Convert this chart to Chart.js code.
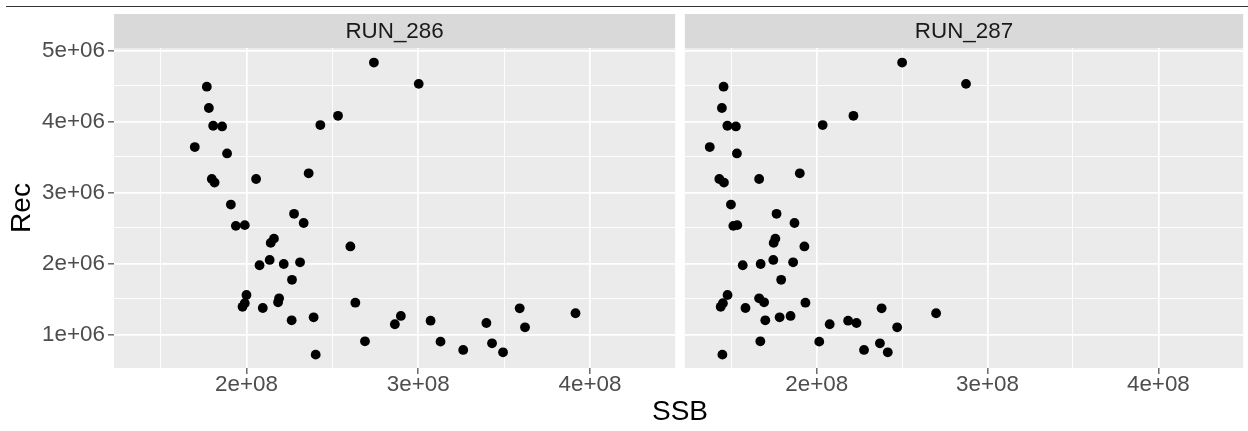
<!DOCTYPE html>
<html>
<head>
<meta charset="utf-8">
<script src="https://cdn.jsdelivr.net/npm/chart.js@4.4.1/dist/chart.umd.min.js"></script>
<style>
  body { margin: 0; background: #fff; width: 1248px; height: 431px; position: relative; overflow: hidden;
         font-family: "Liberation Sans", Arial, sans-serif; }
  #topRule { position: absolute; left: 6px; right: 0; top: 6px; height: 1px; background: #333; }
  canvas { position: absolute; top: 0; }
  #c286 { left: 0; }
  #c287 { left: 680px; }
  #ssbTitle { position: absolute; left: 114px; width: 1132px; top: 395px; text-align: center;
              font-size: 28px; line-height: 32px; color: #000; }
</style>
</head>
<body>
<div id="topRule"></div>
<canvas id="c286" width="680" height="431"></canvas>
<canvas id="c287" width="568" height="431"></canvas>
<div id="ssbTitle">SSB</div>
<script>
// recruitment by year, shared by both runs
const rec = [
  4.83e6, 4.49e6, 4.19e6, 3.94e6, 3.93e6, 3.64e6, 3.55e6, 3.19e6, 3.14e6, 3.19e6,
  3.27e6, 3.95e6, 4.08e6, 2.83e6, 2.70e6, 4.53e6, 2.57e6, 2.53e6, 2.54e6, 2.35e6,
  2.29e6, 2.24e6, 2.05e6, 1.975e6, 1.993e6, 2.017e6, 1.77e6, 1.556e6, 1.44e6, 1.39e6,
  1.51e6, 1.453e6, 1.373e6, 1.448e6, 1.20e6, 1.242e6, 0.716e6, 0.904e6, 1.144e6, 1.261e6,
  1.194e6, 0.899e6, 0.782e6, 1.162e6, 0.876e6, 0.749e6, 1.369e6, 1.101e6, 1.299e6
];

// spawning stock biomass, same years, per run
const ssbRun286 = [
  2.742e8, 1.769e8, 1.781e8, 1.806e8, 1.858e8, 1.699e8, 1.887e8, 1.798e8, 1.814e8, 2.056e8,
  2.362e8, 2.430e8, 2.533e8, 1.909e8, 2.277e8, 3.003e8, 2.333e8, 1.938e8, 1.990e8, 2.160e8,
  2.141e8, 2.605e8, 2.135e8, 2.076e8, 2.217e8, 2.312e8, 2.265e8, 2.000e8, 1.990e8, 1.977e8,
  2.190e8, 2.184e8, 2.095e8, 2.634e8, 2.263e8, 2.391e8, 2.403e8, 2.690e8, 2.864e8, 2.899e8,
  3.072e8, 3.130e8, 3.262e8, 3.397e8, 3.430e8, 3.494e8, 3.591e8, 3.622e8, 3.916e8
];
const ssbRun287 = [
  2.500e8, 1.455e8, 1.445e8, 1.477e8, 1.527e8, 1.374e8, 1.533e8, 1.430e8, 1.457e8, 1.663e8,
  1.901e8, 2.035e8, 2.215e8, 1.498e8, 1.765e8, 2.874e8, 1.870e8, 1.512e8, 1.535e8, 1.758e8,
  1.748e8, 1.928e8, 1.746e8, 1.567e8, 1.672e8, 1.862e8, 1.792e8, 1.478e8, 1.451e8, 1.438e8,
  1.663e8, 1.692e8, 1.583e8, 1.934e8, 1.699e8, 1.783e8, 1.448e8, 1.670e8, 2.076e8, 1.847e8,
  2.184e8, 2.015e8, 2.277e8, 2.233e8, 2.370e8, 2.416e8, 2.380e8, 2.471e8, 2.699e8
];

const runNames = ["RUN_286", "RUN_287"];

// grid breaks: majors get labels, halves are minor lines
const xBreaks = [1.5e8, 2e8, 2.5e8, 3e8, 3.5e8, 4e8];
const yBreaks = [1e6, 1.5e6, 2e6, 2.5e6, 3e6, 3.5e6, 4e6, 4.5e6, 5e6];
const xLimits = [1.2285e8, 4.496e8];
const yLimits = [0.528e6, 5.035e6];

const FONT = '"Liberation Sans", Arial, sans-serif';

function sciLabel(v) {
  const [m, e] = v.toExponential().split('e');
  return m + 'e' + e[0] + e.slice(1).padStart(2, '0');
}
const isMajorX = v => v % 1e8 === 0;
const isMajorY = v => v % 1e6 === 0;

// grey panel background and the facet strip on top
const panelStrip = {
  id: 'panelStrip',
  beforeDraw(chart, args, opts) {
    const { ctx, chartArea: a } = chart;
    ctx.save();
    ctx.fillStyle = '#EBEBEB';
    ctx.fillRect(a.left, a.top, a.right - a.left, a.bottom - a.top);
    ctx.fillStyle = '#D9D9D9';
    ctx.fillRect(a.left, 14, a.right - a.left, a.top - 14);
    ctx.fillStyle = '#1A1A1A';
    ctx.font = '22.4px ' + FONT;
    ctx.textAlign = 'center';
    ctx.textBaseline = 'middle';
    ctx.fillText(opts.label, (a.left + a.right) / 2, 14 + (a.top - 14) / 2 + 1);
    ctx.restore();
  }
};

function makePanel(canvasId, ssb, label, first) {
  return new Chart(document.getElementById(canvasId), {
    type: 'scatter',
    data: {
      datasets: [{
        data: ssb.map((x, i) => ({ x: x, y: rec[i] })),
        pointRadius: 4.9,
        pointHoverRadius: 4.9,
        pointBackgroundColor: '#000',
        pointBorderWidth: 0,
      }],
    },
    plugins: [panelStrip],
    options: {
      responsive: false,
      animation: false,
      events: [],
      layout: { padding: first ? { top: 48, left: 0, right: 4, bottom: 0 }
                               : { top: 48, left: 4, right: 2, bottom: 0 } },
      plugins: {
        legend: { display: false },
        tooltip: { enabled: false },
        panelStrip: { label: label },
      },
      scales: {
        x: {
          type: 'linear',
          min: xLimits[0],
          max: xLimits[1],
          afterBuildTicks: s => { s.ticks = xBreaks.map(v => ({ value: v })); },
          afterFit: s => { s.height = 63; },
          border: { display: false },
          grid: {
            color: '#FFFFFF',
            lineWidth: c => isMajorX(c.tick.value) ? 1.7 : 0.9,
            tickColor: c => isMajorX(c.tick.value) ? '#333333' : 'rgba(0,0,0,0)',
            tickLength: 6,
            tickWidth: 1.1,
          },
          ticks: {
            autoSkip: false,
            maxRotation: 0,
            padding: 0,
            color: '#4D4D4D',
            font: { family: FONT, size: 22.4, lineHeight: 1 },
            callback: v => isMajorX(v) ? sciLabel(v) : '',
          },
        },
        y: {
          type: 'linear',
          min: yLimits[0],
          max: yLimits[1],
          afterBuildTicks: s => { s.ticks = yBreaks.map(v => ({ value: v })); },
          afterFit: s => { s.width = first ? 114 : 0; },
          border: { display: false },
          grid: {
            color: '#FFFFFF',
            lineWidth: c => isMajorY(c.tick.value) ? 1.7 : 0.9,
            tickColor: c => isMajorY(c.tick.value) ? '#333333' : 'rgba(0,0,0,0)',
            drawTicks: first,
            tickLength: 6,
            tickWidth: 1.1,
          },
          ticks: {
            display: first,
            autoSkip: false,
            padding: 3,
            color: '#4D4D4D',
            font: { family: FONT, size: 22.4 },
            callback: v => isMajorY(v) ? sciLabel(v) : '',
          },
          title: {
            display: first,
            text: 'Rec',
            color: '#000',
            font: { family: FONT, size: 28 },
            padding: { top: 5, bottom: 0 },
          },
        },
      },
    },
  });
}

makePanel('c286', ssbRun286, runNames[0], true);
makePanel('c287', ssbRun287, runNames[1], false);
</script>
</body>
</html>
